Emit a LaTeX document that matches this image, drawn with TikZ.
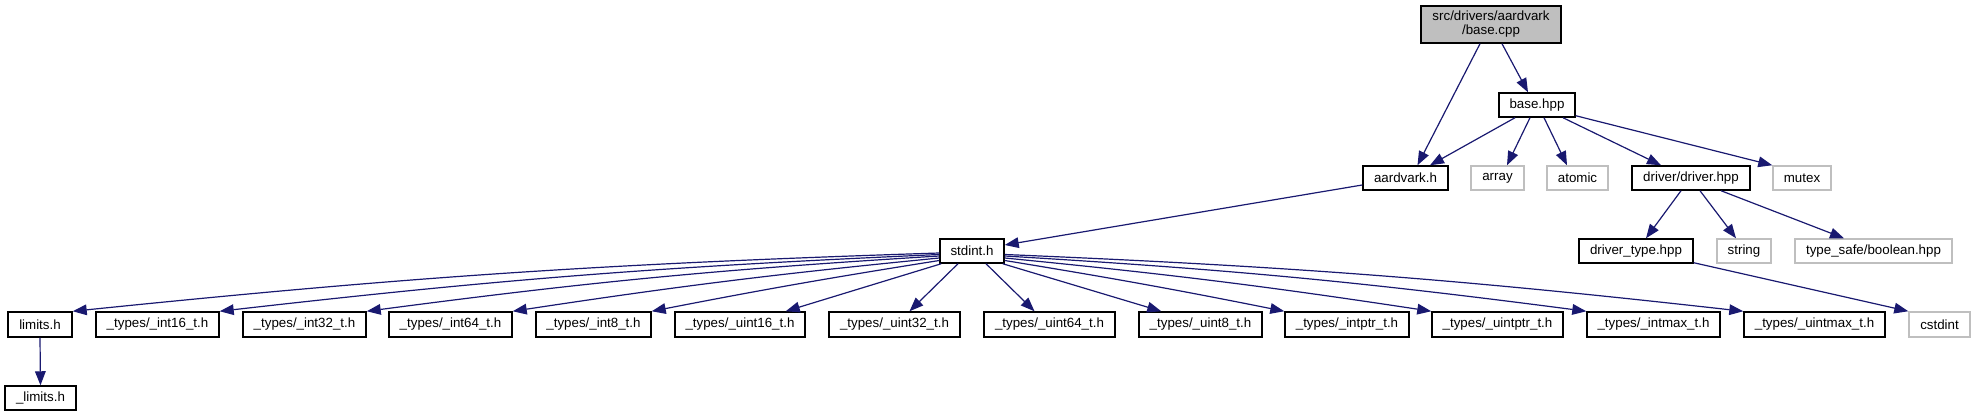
\documentclass[tikz,border=0pt]{standalone}
\usepackage{fontspec}
\setmainfont{Liberation Sans}
\usetikzlibrary{arrows.meta,calc}
\definecolor{edgeblue}{HTML}{191970}
\definecolor{extgray}{HTML}{BFBFBF}
\begin{document}
\begin{tikzpicture}[x=0.75pt,y=-0.75pt,
  wh/.style 2 args={minimum width=#1*0.75pt, minimum height=#2*0.75pt},
  filebox/.style={draw=black, line width=1.1pt, fill=white, inner sep=0pt,
    font=\fontsize{10}{10.5}\selectfont, text=black},
  extbox/.style={filebox, draw=extgray},
  rootbox/.style={filebox, fill=extgray, align=center},
  dep/.style={draw=edgeblue, line width=0.9pt,
    -{Triangle[length=10.5pt,width=8pt]}, edgeblue}]
\useasboundingbox (0,0) rectangle (1974,416);

% top levels
\node[rootbox, wh={140}{37}] (basecpp) at (1491,24.5) {src/drivers/aardvark\\/base.cpp};
\node[filebox, wh={76}{24}] (basehpp) at (1537,105) {base.hpp};
\node[filebox, wh={85}{24}] (aardvark) at (1405.5,178) {aardvark.h};
\node[extbox, wh={53}{24}] (array) at (1497.5,178) {array};
\node[extbox, wh={61}{24}] (atomic) at (1577.5,178) {atomic};
\node[filebox, wh={118}{24}] (driver) at (1691,178) {driver/driver.hpp};
\node[extbox, wh={58}{24}] (mutex) at (1802,178) {mutex};
\node[filebox, wh={64}{24}] (stdint) at (972,251) {stdint.h};
\node[filebox, wh={114}{24}] (drivertype) at (1636,251) {driver\_type.hpp};
\node[extbox, wh={54}{24}] (string) at (1744,251) {string};
\node[extbox, wh={157}{24}] (boolean) at (1873.5,251) {type\_safe/boolean.hpp};

% bottom row
\node[filebox, wh={64}{25}] (limits) at (40,324.5) {limits.h};
\node[filebox, wh={123}{25}] (int16) at (157.5,324.5) {\_types/\_int16\_t.h};
\node[filebox, wh={123}{25}] (int32) at (304.5,324.5) {\_types/\_int32\_t.h};
\node[filebox, wh={123}{25}] (int64) at (450.5,324.5) {\_types/\_int64\_t.h};
\node[filebox, wh={115}{25}] (int8) at (593.5,324.5) {\_types/\_int8\_t.h};
\node[filebox, wh={130}{25}] (uint16) at (740,324.5) {\_types/\_uint16\_t.h};
\node[filebox, wh={131}{25}] (uint32) at (894.5,324.5) {\_types/\_uint32\_t.h};
\node[filebox, wh={131}{25}] (uint64) at (1049.5,324.5) {\_types/\_uint64\_t.h};
\node[filebox, wh={123}{25}] (uint8) at (1200.5,324.5) {\_types/\_uint8\_t.h};
\node[filebox, wh={124}{25}] (intptr) at (1347,324.5) {\_types/\_intptr\_t.h};
\node[filebox, wh={131}{25}] (uintptr) at (1497.5,324.5) {\_types/\_uintptr\_t.h};
\node[filebox, wh={133}{25}] (intmax) at (1653.5,324.5) {\_types/\_intmax\_t.h};
\node[filebox, wh={141}{25}] (uintmax) at (1814.5,324.5) {\_types/\_uintmax\_t.h};
\node[extbox, wh={61}{25}] (cstdint) at (1939.5,324.5) {cstdint};
\node[filebox, wh={71}{24}] (ulimits) at (40.5,398) {\_limits.h};

% edges from base.cpp
\draw[dep] ($(basecpp.south)+(-11,0)$) -- ($(aardvark.north)+(12,0)$);
\draw[dep] ($(basecpp.south)+(11,0)$) -- ($(basehpp.north)+(-9,0)$);
% edges from base.hpp
\draw[dep] ($(basehpp.south)+(-22,0)$) -- ($(aardvark.north)+(24.5,0)$);
\draw[dep] ($(basehpp.south)+(-7,0)$) -- ($(array.north)+(9.5,0)$);
\draw[dep] ($(basehpp.south)+(7,0)$) -- ($(atomic.north)+(-10.5,0)$);
\draw[dep] ($(basehpp.south)+(26,0)$) -- ($(driver.north)+(-30,0)$);
\draw[dep] ($(basehpp.south east)+(0,-2)$) -- (mutex.north west);
% aardvark -> stdint
\draw[dep] ($(aardvark.west)+(0,7)$) -- ($(stdint.east)+(0,-6)$);
% driver.hpp
\draw[dep] ($(driver.south)+(-10,0)$) -- ($(drivertype.north)+(10,0)$);
\draw[dep] ($(driver.south)+(9,0)$) -- ($(string.north)+(-8,0)$);
\draw[dep] ($(driver.south)+(30,0)$) -- ($(boolean.north)+(-29.5,0)$);
\draw[dep] ($(drivertype.south east)+(0,-1)$) -- (cstdint.north west);
% limits
\draw[dep] (limits.south) -- (ulimits.north);
% stdint fan-out
\draw[dep] ($(stdint.west)+(0,2)$) to[bend right=2] (limits.north east);
\draw[dep] ($(stdint.west)+(0,3.5)$) to[bend right=2] (int16.north east);
\draw[dep] ($(stdint.west)+(0,5)$) to[bend right=2] (int32.north east);
\draw[dep] ($(stdint.west)+(0,7)$) to[bend right=1.5] (int64.north east);
\draw[dep] ($(stdint.west)+(0,9.5)$) to[bend right=1] (int8.north east);
\draw[dep] ($(stdint.south west)+(2,0)$) -- ($(uint16.north east)+(-20,0)$);
\draw[dep] ($(stdint.south)+(-14,0)$) -- ($(uint32.north)+(15,0)$);
\draw[dep] ($(stdint.south)+(14,0)$) -- ($(uint64.north)+(-15,0)$);
\draw[dep] ($(stdint.south east)+(-2,0)$) -- ($(uint8.north west)+(23,0)$);
\draw[dep] ($(stdint.east)+(0,9.5)$) to[bend left=1] (intptr.north west);
\draw[dep] ($(stdint.east)+(0,7)$) to[bend left=1.5] (uintptr.north west);
\draw[dep] ($(stdint.east)+(0,5)$) to[bend left=2] (intmax.north west);
\draw[dep] ($(stdint.east)+(0,3.5)$) to[bend left=2] (uintmax.north west);
\end{tikzpicture}
\end{document}
